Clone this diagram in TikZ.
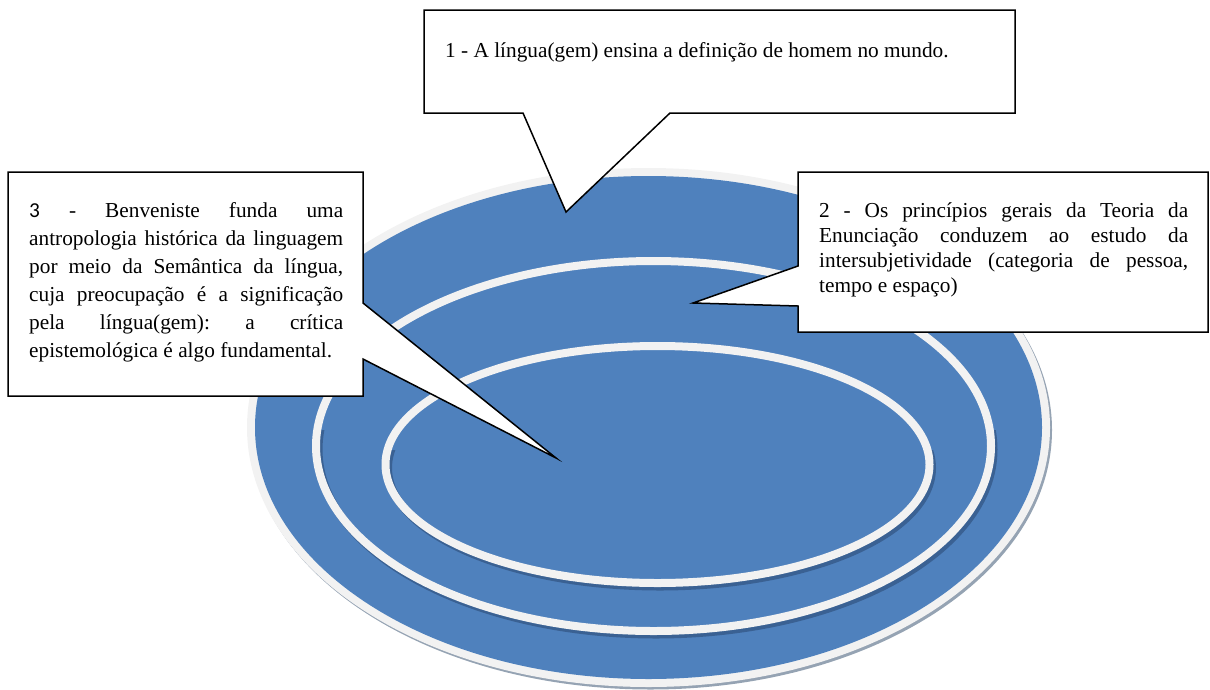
\documentclass[tikz,border=0pt]{standalone}
\usepackage{fontspec}
\setmainfont{Liberation Serif}
\newfontfamily\carlito{Carlito}
\frenchspacing
\definecolor{plateblue}{HTML}{4F81BD}
\definecolor{ringgray}{HTML}{F2F2F2}
\definecolor{shadowblue}{HTML}{3A6193}
\definecolor{rimshadow}{HTML}{95A3B3}
\tikzset{
  ringline/.style={draw=ringgray, line width=8pt},
  ringshadow/.style={draw=shadowblue, line width=8pt},
  calloutbox/.style={draw=black, fill=white, line width=1.5pt, line join=miter},
  txtA/.style={inner sep=0pt, font=\fontsize{21.3}{25}\selectfont\frenchspacing},
  txtB/.style={inner sep=0pt, align=justify, font=\fontsize{21.3}{25}\selectfont\frenchspacing},
  txtC/.style={inner sep=0pt, align=justify, font=\fontsize{21.3}{28}\selectfont\frenchspacing},
}
\begin{document}
\begin{tikzpicture}[x=1pt,y=-1pt]
\useasboundingbox (0,0) rectangle (1210,689);
% plate
\fill[rimshadow] (650.5,430) ellipse [x radius=401.5pt, y radius=259.5pt];
\fill[ringgray] (648.5,427.5) ellipse [x radius=401.5pt, y radius=259.5pt];
\fill[plateblue] (648.5,427.5) ellipse [x radius=393.5pt, y radius=251.5pt];
% ring shadows (lower part)
\begin{scope}
  \clip (0,430) rectangle (1210,689);
  \draw[ringshadow] (656,449.5) ellipse [x radius=337.5pt, y radius=185pt];
\end{scope}
\begin{scope}
  \clip (0,450) rectangle (1210,689);
  \draw[ringshadow] (660,468) ellipse [x radius=272pt, y radius=118.5pt];
\end{scope}
% rings
\draw[ringline] (653.5,446) ellipse [x radius=337.5pt, y radius=185pt];
\draw[ringline] (657.5,464.5) ellipse [x radius=272pt, y radius=118.5pt];
% callout 1
\coordinate (c1tip) at (566,212);
\draw[calloutbox] (424,10) -- (1015,10) -- (1015,113) -- (670,113) -- (c1tip) -- (523,113) -- (424,113) -- cycle;
\node[txtA, anchor=base west] (t1) at (445,57) {1 - A língua(gem) ensina a definição de homem no mundo.};
% callout 2
\coordinate (c2tip) at (693,303);
\draw[calloutbox] (798,172) -- (1208,172) -- (1208,332) -- (798,332) -- (798,306) -- (c2tip) -- (798,266) -- cycle;
\node[txtB, text width=369pt, anchor=north west] (t2) at (819,199.5)
  {\tolerance=10000\hbadness=10000\strut 2 - Os princípios gerais da Teoria da\linebreak Enunciação conduzem ao estudo da\linebreak intersubjetividade (categoria de pessoa,\linebreak tempo e espaço)};
% callout 3
\coordinate (c3tip) at (556,458);
\draw[calloutbox] (8,172) -- (363,172) -- (363,303) -- (c3tip) -- (363,359) -- (363,396) -- (8,396) -- cycle;
\node[txtC, text width=314pt, anchor=north west] (t3) at (29,197.4)
  {\tolerance=10000\hbadness=10000\strut{\carlito 3} - Benveniste funda uma\linebreak antropologia histórica da linguagem\linebreak por meio da Semântica da língua,\linebreak cuja preocupação é a significação\linebreak pela língua(gem): a crítica\linebreak epistemológica é algo fundamental.};
\end{tikzpicture}
\end{document}
